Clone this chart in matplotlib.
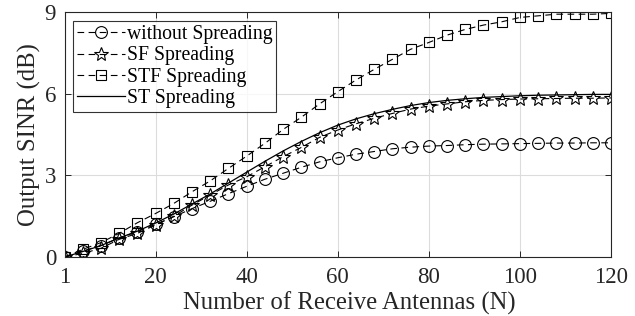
import matplotlib
matplotlib.use('Agg')
import matplotlib.pyplot as plt

# values
n_antennas = list(range(0, 121, 4))
x_ticks = [0, 20, 40, 60, 80, 100, 120]
x_tick_labels = ['1', '20', '40', '60', '80', '100', '120']
y_ticks = [0, 3, 6, 9]

without_spreading = [0.0, 0.22, 0.42, 0.70, 0.93, 1.20, 1.48, 1.78, 2.05, 2.33,
                     2.60, 2.86, 3.08, 3.30, 3.50, 3.65, 3.78, 3.88, 3.98, 4.04,
                     4.08, 4.10, 4.13, 4.15, 4.16, 4.17, 4.18, 4.19, 4.19, 4.20, 4.20]
sf_spreading = [0.0, 0.13, 0.32, 0.65, 0.87, 1.18, 1.50, 1.91, 2.28, 2.65,
                2.95, 3.32, 3.69, 4.03, 4.40, 4.67, 4.90, 5.10, 5.28, 5.44,
                5.55, 5.63, 5.71, 5.76, 5.79, 5.81, 5.82, 5.83, 5.84, 5.84, 5.85]
stf_spreading = [0.0, 0.28, 0.53, 0.87, 1.26, 1.60, 1.97, 2.40, 2.80, 3.26,
                 3.71, 4.18, 4.69, 5.14, 5.63, 6.08, 6.51, 6.90, 7.27, 7.64,
                 7.89, 8.16, 8.37, 8.53, 8.65, 8.81, 8.87, 8.93, 8.93, 8.93, 8.96]
st_spreading = [0.0, 0.20, 0.42, 0.70, 0.95, 1.25, 1.58, 1.95, 2.32, 2.72,
                3.12, 3.52, 3.90, 4.25, 4.57, 4.85, 5.08, 5.27, 5.43, 5.57,
                5.68, 5.76, 5.82, 5.87, 5.90, 5.93, 5.95, 5.96, 5.97, 5.98, 5.98]

plt.rcParams['font.family'] = ['Liberation Serif', 'DejaVu Serif']

fig = plt.figure(figsize=(6.35, 3.16), dpi=100)
ax = fig.add_axes([0.1016, 0.1867, 0.8606, 0.7744])

dash = (0, (6, 4))
ax.plot(n_antennas, without_spreading, color='black', lw=0.8, linestyle=dash,
        marker='o', ms=8.5, mfc='none', mec='black', mew=0.8, label='without Spreading')
ax.plot(n_antennas, sf_spreading, color='black', lw=0.8, linestyle=dash,
        marker='*', ms=10, mfc='none', mec='black', mew=0.8, label='SF Spreading')
ax.plot(n_antennas, stf_spreading, color='black', lw=0.8, linestyle=dash,
        marker='s', ms=7, mfc='none', mec='black', mew=0.8, label='STF Spreading')
ax.plot(n_antennas, st_spreading, color='black', lw=0.9, linestyle='-',
        label='ST Spreading')

ax.set_xlim(0, 120)
ax.set_ylim(0, 9)
ax.set_xticks(x_ticks)
ax.set_xticklabels(x_tick_labels)
ax.set_yticks(y_ticks)
ax.tick_params(direction='in', top=True, right=True, labelsize=16.5,
               length=4, width=0.7, colors='#262626', pad=6)
ax.tick_params(axis='x', pad=7)
ax.grid(True, color='#dcdcdc', linewidth=0.8)
ax.set_axisbelow(True)
for s in ax.spines.values():
    s.set_linewidth(0.8)
    s.set_color('#262626')

ax.set_xlabel('Number of Receive Antennas (N)', fontsize=17.8, color='#262626')
ax.xaxis.set_label_coords(0.522, -0.14)
ax.set_ylabel('Output SINR (dB)', fontsize=17.8, color='#262626', labelpad=3)

leg = ax.legend(loc='upper left', fontsize=14.2, frameon=True, fancybox=False,
                edgecolor='black', borderpad=0.2, labelspacing=0.12,
                handlelength=2.4, handletextpad=0.1, borderaxespad=0.45)
leg.get_frame().set_linewidth(0.8)

fig.savefig('out.png', dpi=100)
